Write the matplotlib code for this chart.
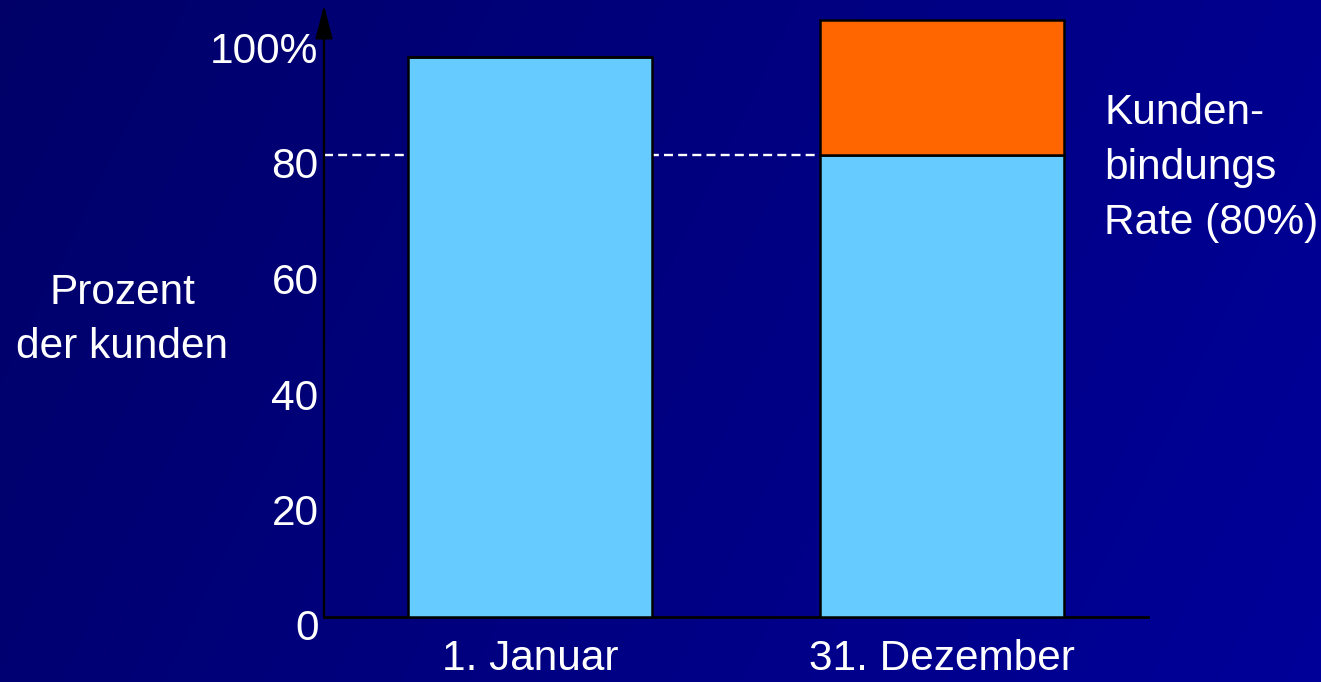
import numpy as np
import matplotlib
matplotlib.use("Agg")
import matplotlib.pyplot as plt
from matplotlib.transforms import ScaledTranslation

plt.rcParams['font.family'] = ['Liberation Sans', 'DejaVu Sans']

# Data
categories = ["1. Januar", "31. Dezember"]
retained = [97, 80]          # light-blue segment
lost = [0, 23.4]             # orange segment on top
tick_values = [0, 20, 40, 60, 80, 100]
tick_labels = ["0", "20", "40", "60", "80", "100%"]
retention_rate = 80
y_title = "Prozent\nder kunden"
side_note = "Kunden-\nbindungs\nRate (80%)"

W, H, DPI = 1321, 682, 100
FS = 30.5
fig = plt.figure(figsize=(W / DPI, H / DPI), dpi=DPI)

# Navy background gradient
bg = fig.add_axes([0, 0, 1, 1], zorder=-10)
gx = np.linspace(0, 1, 400)
gy = np.linspace(0, 1, 200)
GX, GY = np.meshgrid(gx, gy)
t = 0.8 * GX + 0.2 * GY
img = np.zeros((200, 400, 3))
img[..., 2] = 0.41 + 0.19 * t
bg.imshow(img, aspect='auto', extent=[0, 1, 0, 1], origin='upper')
bg.set_axis_off()

ax = fig.add_axes([324 / W, 65 / H, 824 / W, 612 / H])
ax.set_facecolor('none')
ax.set_xlim(-0.5, 1.5)
ax.set_ylim(0, 612 / 5.775)

x = np.arange(len(categories))
width = 0.59
edge = dict(edgecolor='black', linewidth=1.8)
ax.bar(x, retained, width, color='#66CCFF', zorder=3, **edge)
ax.bar(x, lost, width, bottom=retained, color='#FF6600', zorder=3, **edge)

# Dashed reference line at the retention rate
ax.plot([-0.5, x[1] - width / 2], [retention_rate, retention_rate],
        color='white', lw=1.7, ls=(0, (3.8, 2.2)), zorder=2)

for s in ['top', 'right', 'left']:
    ax.spines[s].set_visible(False)
ax.spines['bottom'].set_color('black')
ax.spines['bottom'].set_linewidth(2)

# Y axis with arrow head
ax.annotate('', xy=(0, 1.0), xytext=(0, 0), xycoords='axes fraction',
            textcoords='axes fraction',
            arrowprops=dict(arrowstyle='-|>,head_length=1.3,head_width=0.33',
                            color='black', lw=1.6, mutation_scale=16,
                            shrinkA=0, shrinkB=0), zorder=5)

ax.set_yticks(tick_values)
ax.set_yticklabels(tick_labels)
ax.tick_params(axis='y', length=0, pad=4, labelsize=FS, labelcolor='white')
offset = ScaledTranslation(0, -8 / DPI, fig.dpi_scale_trans)
for lab in ax.get_yticklabels():
    lab.set_transform(lab.get_transform() + offset)

ax.set_xticks(x)
ax.set_xticklabels(categories)
ax.tick_params(axis='x', length=0, pad=16, labelsize=FS, labelcolor='white')

fig.text(122 / W, 1 - 320 / H, y_title, color='white', fontsize=FS,
         ha='center', va='center', linespacing=1.48)
fig.text(1104 / W, 1 - 168 / H, side_note, color='white', fontsize=FS,
         ha='left', va='center', linespacing=1.48)

fig.savefig('out.png', dpi=DPI)
